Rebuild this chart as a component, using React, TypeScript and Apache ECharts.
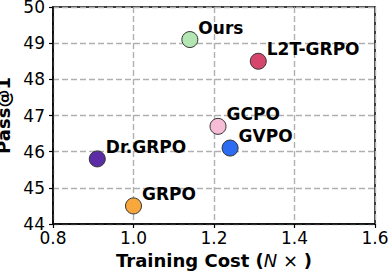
import React, { useEffect, useRef } from "react";
import * as echarts from "echarts";

const methods = ["Ours", "L2T-GRPO", "GCPO", "GVPO", "Dr.GRPO", "GRPO"];
const trainingCost = [1.14, 1.31, 1.21, 1.24, 0.91, 1.0];
const passAt1 = [49.1, 48.5, 46.7, 46.1, 45.8, 44.5];
const colors = ["#b4e6b4", "#d6466c", "#f8bdd6", "#2b6cf2", "#5c2ca6", "#f7a73c"];

const FONT = "DejaVu Sans";

export default function App() {
  const ref = useRef<HTMLDivElement>(null);
  useEffect(() => {
    if (!ref.current) return;
    const chart = echarts.init(ref.current, undefined, { renderer: "svg" });
    const data = methods.map((m, i) => ({
      name: m,
      value: [trainingCost[i], passAt1[i]],
      itemStyle: { color: colors[i] },
    }));
    chart.setOption({
      animation: false,
      grid: {
        left: 53,
        right: 14,
        top: 7,
        bottom: 48,
        show: true,
        borderColor: "#000",
        borderWidth: 1.5,
        backgroundColor: "transparent",
        containLabel: false,
        outerBoundsMode: "none",
      },
      xAxis: {
        type: "value",
        min: 0.8,
        max: 1.6,
        interval: 0.2,
        name: "Training Cost ({i|N}{n| × })",
        nameLocation: "middle",
        nameGap: 27,
        nameTextStyle: {
          fontFamily: FONT,
          fontSize: 18,
          fontWeight: "bold",
          color: "#000",
          rich: {
            i: { fontFamily: FONT, fontSize: 18, fontStyle: "italic", fontWeight: "normal", color: "#000" },
            n: { fontFamily: FONT, fontSize: 18, fontWeight: "normal", color: "#000" },
          },
        },
        axisLine: { show: true, lineStyle: { color: "#000", width: 1.5 } },
        axisTick: { show: true, length: 4, lineStyle: { color: "#000", width: 1.2 } },
        axisLabel: {
          fontFamily: FONT,
          fontSize: 17,
          color: "#000",
          margin: 5,
          formatter: (v: number) => v.toFixed(1),
        },
        splitLine: {
          show: true,
          lineStyle: { color: "#b0b0b0", width: 1.4, type: [6, 3] },
        },
      },
      yAxis: {
        type: "value",
        min: 44,
        max: 50,
        interval: 1,
        name: "Pass@1",
        nameLocation: "middle",
        nameGap: 32,
        nameTextStyle: { fontFamily: FONT, fontSize: 18, lineHeight: 18, fontWeight: "bold", color: "#000" },
        axisLine: { show: true, lineStyle: { color: "#000", width: 1.5 } },
        axisTick: { show: true, length: 4, lineStyle: { color: "#000", width: 1.2 } },
        axisLabel: { fontFamily: FONT, fontSize: 17, color: "#000", margin: 8 },
        splitLine: {
          show: true,
          lineStyle: { color: "#b0b0b0", width: 1.4, type: [6, 3] },
        },
      },
      series: [
        {
          type: "scatter",
          symbol: "circle",
          symbolSize: 16,
          data,
          itemStyle: { borderColor: "#333", borderWidth: 1, opacity: 1 },
          label: {
            show: true,
            position: "right",
            distance: 0,
            offset: [0, -12],
            formatter: (p: any) => p.name,
            fontFamily: FONT,
            fontSize: 17,
            fontWeight: "bold",
            color: "#000",
          },
          z: 5,
        },
      ],
    });
    return () => chart.dispose();
  }, []);
  return (
    <div
      ref={ref}
      style={{ position: "fixed", left: 0, top: 0, width: 389, height: 272, background: "#fff" }}
    />
  );
}
